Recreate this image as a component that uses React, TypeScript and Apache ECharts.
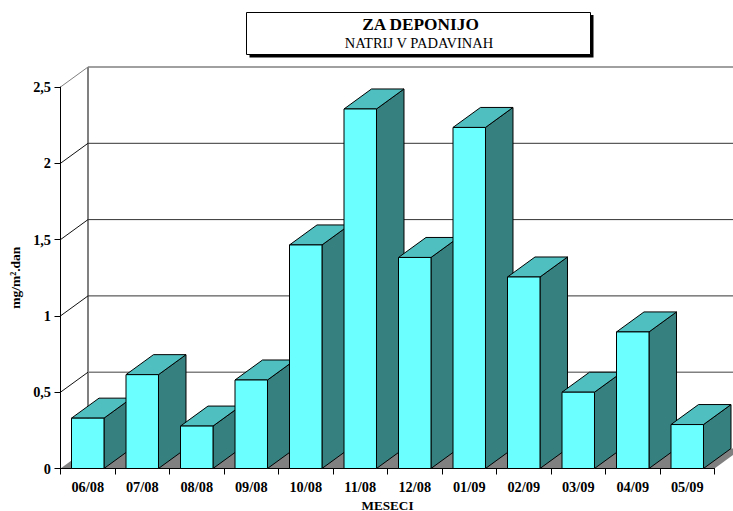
import React, { useEffect, useRef } from "react";
import * as echarts from "echarts";

const categories = ["06/08", "07/08", "08/08", "09/08", "10/08", "11/08", "12/08", "01/09", "02/09", "03/09", "04/09", "05/09"];
const values = [0.33, 0.615, 0.278, 0.58, 1.465, 2.356, 1.383, 2.235, 1.255, 0.5, 0.895, 0.288];
const yTicks = [0, 0.5, 1, 1.5, 2, 2.5];

const FONT = '"Liberation Serif", "Times New Roman", serif';
const DX = 27.5;
const DY = -20;

export default function App() {
  const ref = useRef<HTMLDivElement>(null);
  useEffect(() => {
    document.body.style.margin = "0";
    const chart = echarts.init(ref.current!, undefined, { renderer: "svg" });
    chart.setOption({
      animation: false,
      backgroundColor: "#ffffff",
      grid: { left: 60.5, right: 18.5, top: 87, bottom: 42.5, containLabel: false, outerBoundsMode: "none" },
      graphic: [
        { type: "rect", z: 10, shape: { x: 249.5, y: 15, width: 344, height: 42.5 }, style: { fill: "#000" } },
        { type: "rect", z: 11, shape: { x: 246.5, y: 12.5, width: 344, height: 42 }, style: { fill: "#fff", stroke: "#000", lineWidth: 1 } },
        { type: "text", z: 12, x: 420.5, y: 24.5, style: { text: "ZA DEPONIJO", font: `bold 17.3px ${FONT}`, fill: "#000", align: "center", verticalAlign: "middle" } },
        { type: "text", z: 12, x: 419, y: 43, style: { text: "NATRIJ V PADAVINAH", font: `14.5px ${FONT}`, fill: "#000", align: "center", verticalAlign: "middle" } },
      ],
      xAxis: {
        type: "category",
        data: categories,
        z: 2,
        name: "MESECI",
        nameLocation: "middle",
        nameGap: 30,
        nameTextStyle: { fontFamily: FONT, fontWeight: "bold", fontSize: 13.2, color: "#000" },
        axisLine: { lineStyle: { color: "#000", width: 1 } },
        axisTick: { show: true, length: 6, alignWithLabel: false, lineStyle: { color: "#000" } },
        axisLabel: { interval: 0, margin: 11, fontFamily: FONT, fontWeight: "bold", fontSize: 14.3, color: "#000" },
        splitLine: { show: false },
      },
      yAxis: {
        type: "value",
        min: 0,
        max: 2.5,
        interval: 0.5,
        z: 2,
        name: "mg/m².dan",
        nameLocation: "middle",
        nameGap: 38,
        nameRotate: 90,
        nameTextStyle: { fontFamily: FONT, fontWeight: "bold", fontSize: 13.5, color: "#000" },
        axisLine: { show: true, lineStyle: { color: "#000", width: 1 } },
        axisTick: { show: true, length: 6, lineStyle: { color: "#000" } },
        axisLabel: {
          margin: 9.5,
          fontFamily: FONT,
          fontWeight: "bold",
          fontSize: 14.3,
          color: "#000",
          formatter: (v: number) => String(v).replace(".", ","),
        },
        splitLine: { show: false },
      },
      series: [
        {
          type: "custom",
          z: 1,
          silent: true,
          data: yTicks.map((t) => [0, t]),
          renderItem: (params: any, api: any) => {
            const cs = params.coordSys;
            const y = api.coord([0, api.value(1)])[1];
            const l = cs.x;
            const r = cs.x + cs.width;
            const isTop = params.dataIndex === yTicks.length - 1;
            const children: any[] = [];
            if (params.dataIndex === 0) {
              children.push({
                type: "polygon",
                shape: { points: [[l, y], [r, y], [r + DX, y + DY], [l + DX, y + DY]] },
                style: { fill: "#808080", stroke: "none" },
              });
              children.push({
                type: "line",
                shape: { x1: l + DX, y1: y + DY, x2: l + DX, y2: cs.y + DY },
                style: { stroke: "#808080", lineWidth: 2 },
              });
            } else {
              children.push({
                type: "line",
                shape: { x1: l, y1: y, x2: l + DX, y2: y + DY },
                style: { stroke: isTop ? "#808080" : "#111", lineWidth: 1 },
              });
              children.push({
                type: "line",
                shape: { x1: l + DX, y1: y + DY, x2: r + DX, y2: y + DY },
                style: { stroke: isTop || params.dataIndex === 1 ? "#808080" : "#333", lineWidth: isTop || params.dataIndex === 1 ? 1.5 : 1 },
              });
            }
            return { type: "group", children };
          },
        },
        {
          type: "custom",
          z: 3,
          silent: true,
          data: values.map((v, i) => [i, v]),
          renderItem: (_params: any, api: any) => {
            const top = api.coord([api.value(0), api.value(1)]);
            const base = api.coord([api.value(0), 0]);
            const w = api.size([1, 0])[0] * 0.596;
            const x0 = top[0] - w / 2;
            const x1 = top[0] + w / 2;
            const yT = top[1];
            const yB = base[1];
            const edge = { stroke: "#000", lineWidth: 1, lineJoin: "round" };
            return {
              type: "group",
              children: [
                {
                  type: "polygon",
                  shape: { points: [[x1, yT], [x1 + DX, yT + DY], [x1 + DX, yB + DY], [x1, yB]] },
                  style: { fill: "#378080", ...edge },
                },
                {
                  type: "polygon",
                  shape: { points: [[x0, yT], [x1, yT], [x1 + DX, yT + DY], [x0 + DX, yT + DY]] },
                  style: { fill: "#50BFBF", ...edge },
                },
                {
                  type: "rect",
                  shape: { x: x0, y: yT, width: w, height: yB - yT },
                  style: { fill: "#6BFFFF", ...edge },
                },
              ],
            };
          },
        },
      ],
    });
    return () => chart.dispose();
  }, []);
  return <div ref={ref} style={{ width: 733, height: 511 }} />;
}
